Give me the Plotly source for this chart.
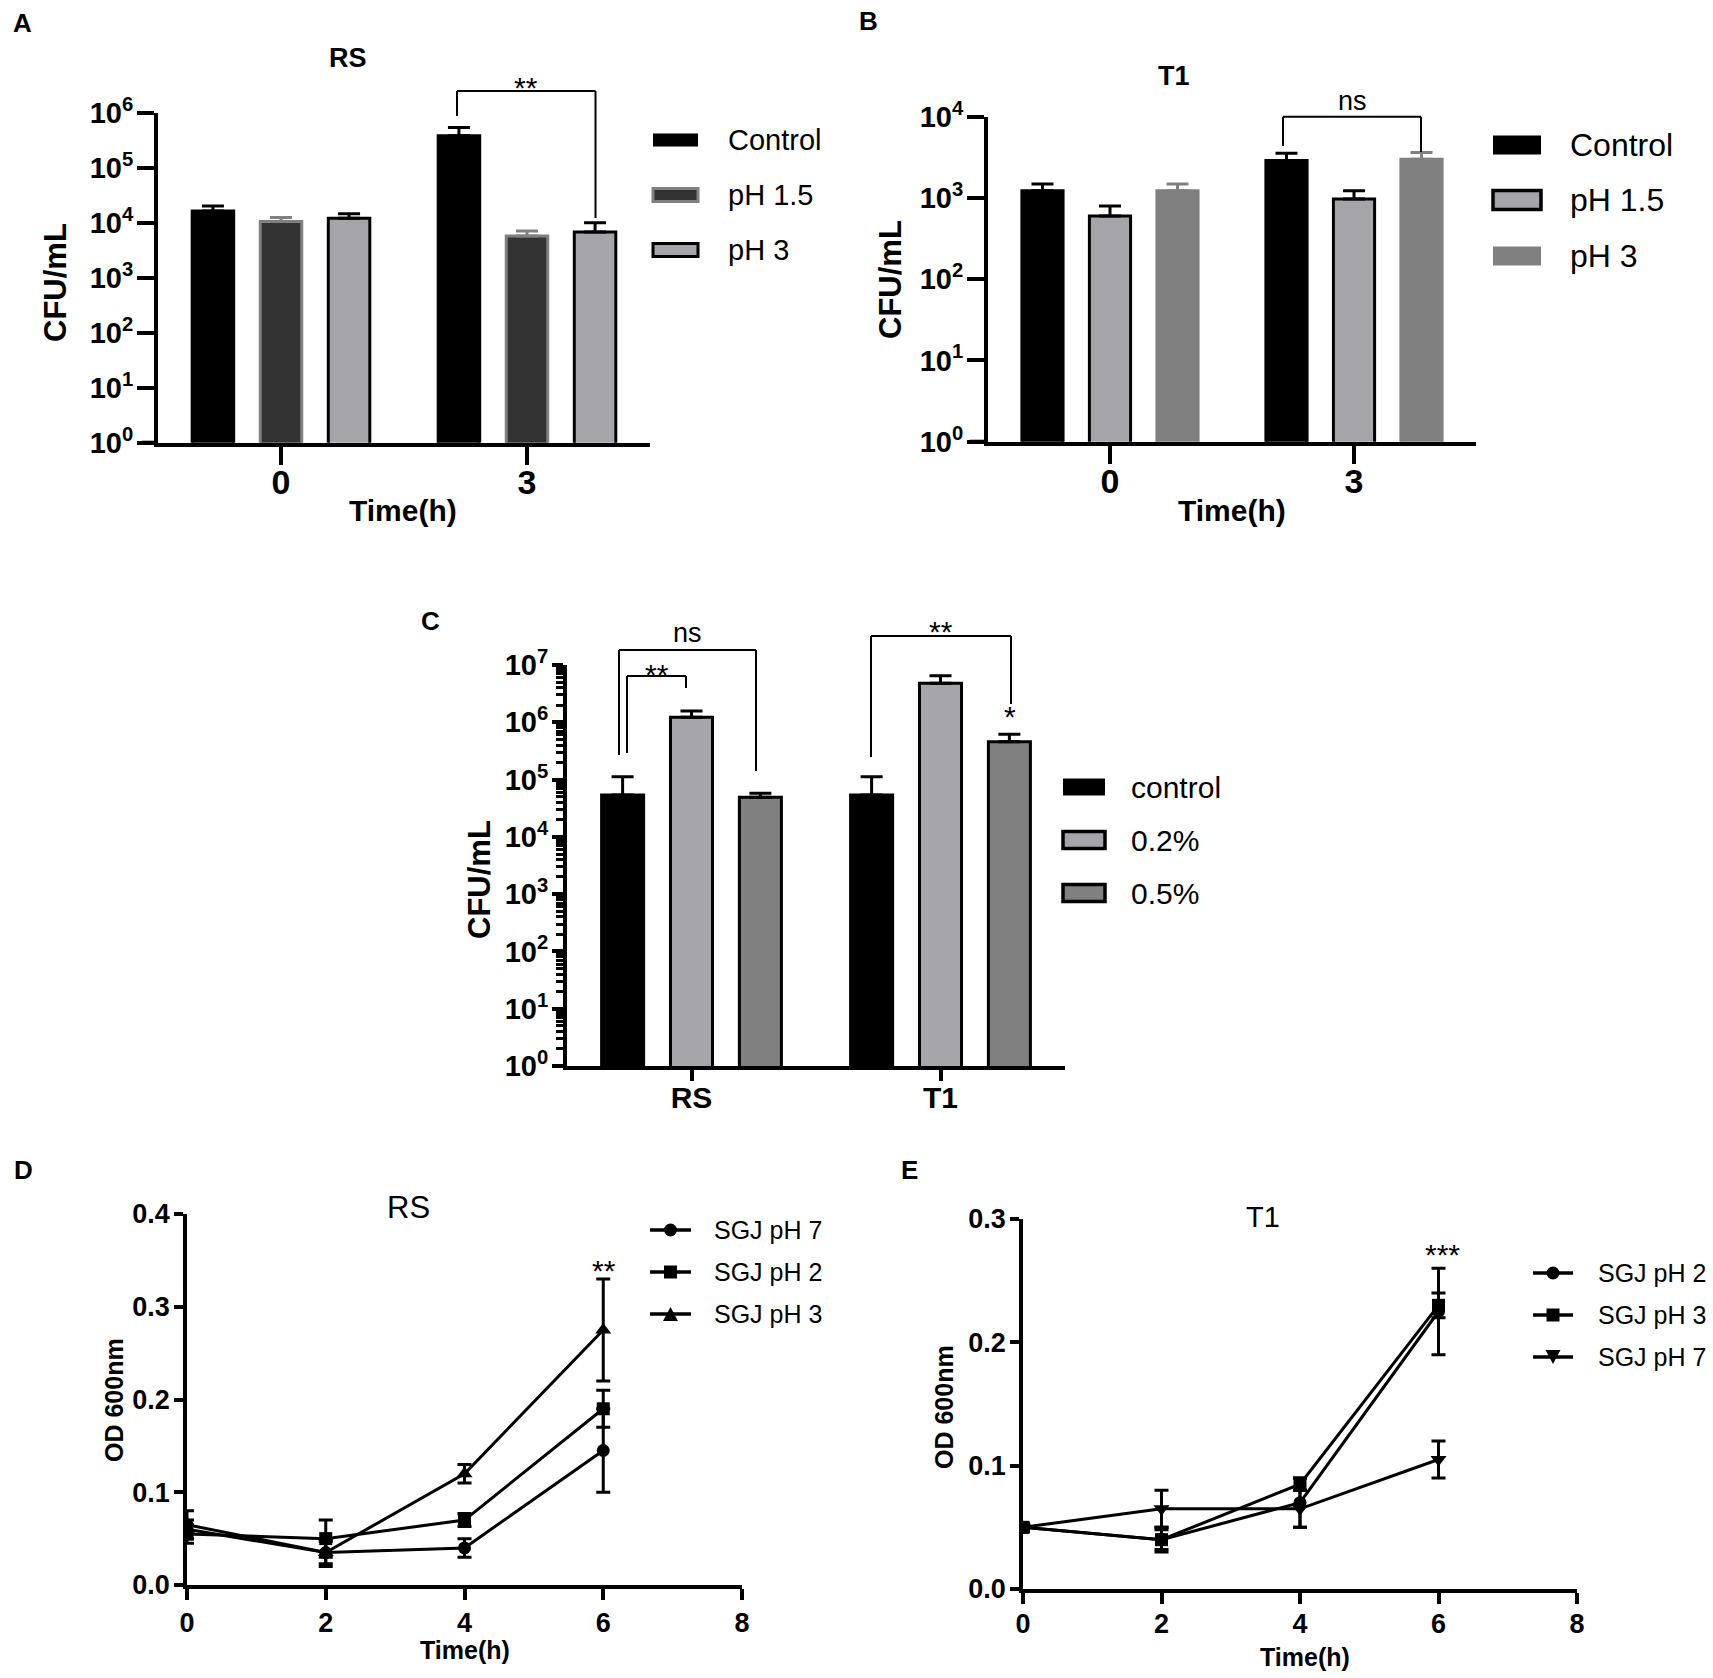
import plotly.graph_objects as go

W, H = 1713, 1678
FONT = "Arial, Liberation Sans, Helvetica, sans-serif"


def fx(x):
    return x / W


def fy(y):
    return 1 - y / H


# ------------------------------------------------------------------ data
# Panel A  (RS, CFU/mL vs time)
a_categories = ["0", "3"]
a_series = ["Control", "pH 1.5", "pH 3"]
a_control = [1.66e4, 3.9e5]
a_control_err = [3.8e3, 1.6e5]
a_ph15 = [1.07e4, 5.8e3]
a_ph15_err = [1.9e3, 1.4e3]
a_ph3 = [1.23e4, 6.9e3]
a_ph3_err = [2.5e3, 3.3e3]

# Panel B  (T1, CFU/mL vs time)
b_categories = ["0", "3"]
b_series = ["Control", "pH 1.5", "pH 3"]
b_control = [1.23e3, 2.88e3]
b_control_err = [250, 670]
b_ph15 = [600, 970]
b_ph15_err = [195, 260]
b_ph3 = [1.23e3, 3.0e3]
b_ph3_err = [250, 630]

# Panel C  (bile salt)
c_categories = ["RS", "T1"]
c_series = ["control", "0.2%", "0.5%"]
c_control = [5.4e4, 5.4e4]
c_control_err = [5.8e4, 5.8e4]
c_02 = [1.22e6, 4.8e6]
c_02_err = [3.6e5, 1.66e6]
c_05 = [4.9e4, 4.57e5]
c_05_err = [8.5e3, 1.6e5]

# log tick labels
log_tickvals = [1, 10, 100, 1e3, 1e4, 1e5, 1e6, 1e7]
log_ticktext = ["10<sup>0</sup>", "10<sup>1</sup>", "10<sup>2</sup>", "10<sup>3</sup>",
                "10<sup>4</sup>", "10<sup>5</sup>", "10<sup>6</sup>", "10<sup>7</sup>"]
log_minor_vals = [m * d for d in [1, 10, 100, 1e3, 1e4, 1e5, 1e6] for m in range(2, 10)]

# Panel D  (RS, OD600 vs time)
d_time = [0, 2, 4, 6]
d_series = ["SGJ pH 7", "SGJ pH 2", "SGJ pH 3"]
d_ph7 = [0.065, 0.035, 0.040, 0.145]
d_ph7_err = [0.015, 0.015, 0.010, 0.045]
d_ph2 = [0.055, 0.050, 0.070, 0.190]
d_ph2_err = [0.010, 0.020, 0.007, 0.020]
d_ph3 = [0.060, 0.035, 0.120, 0.275]
d_ph3_err = [0.010, 0.012, 0.010, 0.055]
d_yticks = [0.0, 0.1, 0.2, 0.3, 0.4]

# Panel E  (T1, OD600 vs time)
e_time = [0, 2, 4, 6]
e_series = ["SGJ pH 2", "SGJ pH 3", "SGJ pH 7"]
e_ph2 = [0.050, 0.040, 0.070, 0.225]
e_ph2_err = [0.003, 0.010, 0.020, 0.035]
e_ph3 = [0.050, 0.040, 0.085, 0.230]
e_ph3_err = [0.003, 0.008, 0.005, 0.010]
e_ph7 = [0.050, 0.065, 0.065, 0.105]
e_ph7_err = [0.003, 0.015, 0.015, 0.015]
e_yticks = [0.0, 0.1, 0.2, 0.3]
time_ticks = [0, 2, 4, 6, 8]

# ------------------------------------------------------------------ styles
BLACK = "#000000"
DARK = "#333333"
MID = "#808080"
LIGHT = "#a5a5a9"

fig = go.Figure()


def add_bar(x, y, err, name, fill, edge, errcol, xa, ya):
    fig.add_trace(go.Bar(
        x=x, y=y, name=name, showlegend=False,
        marker=dict(color=fill, line=dict(color=edge, width=3)),
        error_y=dict(type="data", symmetric=False, array=err, arrayminus=[0] * len(err),
                     color=errcol, thickness=3, width=11),
        xaxis=xa, yaxis=ya))


# A
add_bar(a_categories, a_control, a_control_err, a_series[0], BLACK, BLACK, BLACK, "x", "y")
add_bar(a_categories, a_ph15, a_ph15_err, a_series[1], DARK, MID, MID, "x", "y")
add_bar(a_categories, a_ph3, a_ph3_err, a_series[2], LIGHT, BLACK, BLACK, "x", "y")
# B
add_bar(b_categories, b_control, b_control_err, b_series[0], BLACK, BLACK, BLACK, "x2", "y2")
add_bar(b_categories, b_ph15, b_ph15_err, b_series[1], LIGHT, BLACK, BLACK, "x2", "y2")
add_bar(b_categories, b_ph3, b_ph3_err, b_series[2], MID, MID, MID, "x2", "y2")
# C
add_bar(c_categories, c_control, c_control_err, c_series[0], BLACK, BLACK, BLACK, "x3", "y3")
add_bar(c_categories, c_02, c_02_err, c_series[1], LIGHT, BLACK, BLACK, "x3", "y3")
add_bar(c_categories, c_05, c_05_err, c_series[2], MID, BLACK, BLACK, "x3", "y3")


def add_line(x, y, err, name, symbol, size, xa, ya):
    fig.add_trace(go.Scatter(
        x=x, y=y, name=name, mode="lines+markers", showlegend=False,
        line=dict(color=BLACK, width=3),
        marker=dict(symbol=symbol, size=size, color=BLACK),
        error_y=dict(type="data", array=err, color=BLACK, thickness=3, width=7),
        xaxis=xa, yaxis=ya))


add_line(d_time, d_ph7, d_ph7_err, d_series[0], "circle", 13, "x4", "y4")
add_line(d_time, d_ph2, d_ph2_err, d_series[1], "square", 13, "x4", "y4")
add_line(d_time, d_ph3, d_ph3_err, d_series[2], "triangle-up", 14, "x4", "y4")
add_line(e_time, e_ph2, e_ph2_err, e_series[0], "circle", 13, "x5", "y5")
add_line(e_time, e_ph3, e_ph3_err, e_series[1], "square", 13, "x5", "y5")
add_line(e_time, e_ph7, e_ph7_err, e_series[2], "triangle-down", 14, "x5", "y5")

# ------------------------------------------------------------------ axes


def cat_x(x0, x1, anchor, ticklen, tsize, standoff):
    return dict(domain=[fx(x0), fx(x1)], type="category", range=[-0.5, 1.5], anchor=anchor,
                showline=True, linecolor=BLACK, linewidth=4, ticks="outside", ticklen=ticklen,
                tickwidth=4, tickcolor=BLACK, showgrid=False, zeroline=False,
                ticklabelstandoff=standoff, automargin=False,
                tickfont=dict(family=FONT, size=tsize, color=BLACK, weight="bold"))


def log_y(y0, y1, top, anchor, ticklen, minor=False):
    d = dict(domain=[fy(y0), fy(y1)], type="log", range=[0, top], anchor=anchor,
             showline=True, linecolor=BLACK, linewidth=4, ticks="outside", ticklen=ticklen,
             tickwidth=4, tickcolor=BLACK, showgrid=False, zeroline=False,
             tickmode="array", tickvals=log_tickvals[:top + 1], ticktext=log_ticktext[:top + 1],
             ticklabelstandoff=-2, automargin=False,
             tickfont=dict(family=FONT, size=29, color=BLACK, weight="bold"))
    if minor:
        d["minor"] = dict(tickmode="array", tickvals=log_minor_vals, ticks="outside",
                          ticklen=7, tickwidth=2.5, tickcolor=BLACK, showgrid=False)
    return d


def lin_x(x0, x1, anchor, standoff):
    return dict(domain=[fx(x0), fx(x1)], range=[0, 8], anchor=anchor, tickmode="array",
                tickvals=time_ticks, showline=True, linecolor=BLACK, linewidth=3.5,
                ticks="outside", ticklen=11, tickwidth=3.5, tickcolor=BLACK, showgrid=False,
                zeroline=False, ticklabelstandoff=standoff, automargin=False,
                tickfont=dict(family=FONT, size=27, color=BLACK, weight="bold"))


def lin_y(y0, y1, top, ticks, anchor):
    return dict(domain=[fy(y0), fy(y1)], range=[0, top], anchor=anchor, tickmode="array",
                tickvals=ticks, tickformat=".1f", showline=True, linecolor=BLACK,
                linewidth=3.5, ticks="outside", ticklen=9, tickwidth=3.5, tickcolor=BLACK,
                showgrid=False, zeroline=False, ticklabelstandoff=-1, automargin=False,
                tickfont=dict(family=FONT, size=27, color=BLACK, weight="bold"))


layout_axes = dict(
    xaxis=cat_x(158, 650, "y", 18, 34, -12),
    yaxis=log_y(442.7, 113.3, 6, "x", 17),
    xaxis2=cat_x(988, 1476, "y2", 18, 34, -12),
    yaxis2=log_y(441.7, 116.7, 4, "x2", 17),
    xaxis3=cat_x(567, 1065, "y3", 11, 30, -9),
    yaxis3=log_y(1066, 665, 7, "x3", 11, minor=True),
    xaxis4=lin_x(187, 742, "y4", 0),
    yaxis4=lin_y(1585, 1214, 0.4, d_yticks, "x4"),
    xaxis5=lin_x(1023, 1577, "y5", -3),
    yaxis5=lin_y(1589, 1219, 0.3, e_yticks, "x5"),
)

# ------------------------------------------------------------------ decorations
shapes = []
annotations = []


def pline(x0, y0, x1, y1, w=2):
    shapes.append(dict(type="line", xref="paper", yref="paper", x0=fx(x0), y0=fy(y0),
                       x1=fx(x1), y1=fy(y1), line=dict(color=BLACK, width=w)))


def bracket(x0, x1, ytop, yl, yr):
    pline(x0, yl, x0, ytop)
    pline(x0, ytop, x1, ytop)
    pline(x1, ytop, x1, yr)


def text(x, y, s, size, bold=False, angle=0, xanchor="center"):
    annotations.append(dict(xref="paper", yref="paper", x=fx(x), y=fy(y), text=s,
                            showarrow=False, textangle=angle, xanchor=xanchor,
                            yanchor="middle",
                            font=dict(family=FONT, size=size, color=BLACK,
                                      weight="bold" if bold else "normal")))


# x-axis overhang left of the y-axis (Prism style)
pline(142, 442.7, 158, 442.7, 4)
pline(970, 441.7, 988, 441.7, 4)
pline(556, 1066, 567, 1066, 4)
pline(177, 1585, 187, 1585, 3.5)
pline(1014, 1589, 1023, 1589, 3.5)

# significance brackets
bracket(457, 595.5, 91, 116, 218)
text(526, 87, "**", 30)
bracket(1283, 1421, 116.7, 146, 152)
text(1352, 101, "ns", 27)
bracket(619, 756, 650, 755, 771)
text(687, 633, "ns", 27)
bracket(627, 686, 676, 753, 688)
text(657, 674, "**", 30)
bracket(871, 1011, 636, 757, 704)
text(941, 631, "**", 30)
text(1010, 716, "*", 30)
text(604, 1270, "**", 30)
text(1442, 1254, "***", 30)

# panel letters
text(22, 23, "A", 26, bold=True)
text(868, 21, "B", 26, bold=True)
text(430, 621, "C", 26, bold=True)
text(23, 1170, "D", 26, bold=True)
text(909, 1170, "E", 26, bold=True)

# titles
text(348, 58, "RS", 27, bold=True)
text(1174, 76, "T1", 27, bold=True)
text(408, 1207, "RS", 31)
text(1263, 1217, "T1", 29)

# axis titles
text(55, 283, "CFU/mL", 31, bold=True, angle=-90)
text(891, 280, "CFU/mL", 31, bold=True, angle=-90)
text(479, 880, "CFU/mL", 31, bold=True, angle=-90)
text(114, 1400, "OD 600nm", 25, bold=True, angle=-90)
text(944, 1407, "OD 600nm", 25, bold=True, angle=-90)
text(403, 511, "Time(h)", 30, bold=True)
text(1232, 511, "Time(h)", 30, bold=True)
text(465, 1650, "Time(h)", 25, bold=True)
text(1305, 1657, "Time(h)", 25, bold=True)


# bar legends (Prism-like wide swatches)
def swatch(x0, x1, yc, h, fill, edge, lw):
    shapes.append(dict(type="rect", xref="paper", yref="paper", x0=fx(x0), x1=fx(x1),
                       y0=fy(yc - h / 2), y1=fy(yc + h / 2), fillcolor=fill,
                       line=dict(color=edge, width=lw)))


a_leg = [(BLACK, BLACK, 0), (DARK, MID, 3), (LIGHT, BLACK, 3)]
for i, (fill, edge, lw) in enumerate(a_leg):
    yc = [140, 195, 250][i]
    swatch(653, 698, yc, 13, fill, edge, lw)
    text(726, yc, a_series[i], 29, xanchor="left")

b_leg = [(BLACK, BLACK, 0), (LIGHT, BLACK, 3.5), (MID, MID, 0)]
for i, (fill, edge, lw) in enumerate(b_leg):
    yc = [145, 200, 256][i]
    swatch(1493, 1541, yc, 19, fill, edge, lw)
    text(1568, yc, b_series[i], 32, xanchor="left")

c_leg = [(BLACK, BLACK, 0), (LIGHT, BLACK, 3.5), (MID, BLACK, 3.5)]
for i, (fill, edge, lw) in enumerate(c_leg):
    yc = [787, 840, 893][i]
    swatch(1063, 1105, yc, 17, fill, edge, lw)
    text(1129, yc, c_series[i], 30, xanchor="left")


# line-chart legends (line segment + marker + label)
def marker_shape(cx, cy, symbol):
    if symbol == "circle":
        r = 6.5
        shapes.append(dict(type="circle", xref="paper", yref="paper",
                           x0=fx(cx - r), x1=fx(cx + r), y0=fy(cy + r), y1=fy(cy - r),
                           fillcolor=BLACK, line=dict(width=0)))
    elif symbol == "square":
        r = 6.5
        shapes.append(dict(type="rect", xref="paper", yref="paper",
                           x0=fx(cx - r), x1=fx(cx + r), y0=fy(cy + r), y1=fy(cy - r),
                           fillcolor=BLACK, line=dict(width=0)))
    else:
        hw, hh = 7.5, 7
        s = -1 if symbol == "triangle-up" else 1
        pts = [(cx, cy + s * hh), (cx - hw, cy - s * hh), (cx + hw, cy - s * hh)]
        path = "M" + " L".join(f"{fx(px_)},{fy(py_)}" for px_, py_ in pts) + " Z"
        shapes.append(dict(type="path", xref="paper", yref="paper", path=path,
                           fillcolor=BLACK, line=dict(width=0)))


def line_legend(x0, x1, xt, ys, names, symbols):
    for yc, nm, sym in zip(ys, names, symbols):
        pline(x0, yc, x1, yc, 3.5)
        marker_shape((x0 + x1) / 2, yc, sym)
        text(xt, yc, nm, 25, xanchor="left")


line_legend(650, 691, 712, [1230, 1272, 1314], d_series, ["circle", "square", "triangle-up"])
line_legend(1533, 1573, 1596, [1273, 1315, 1357], e_series,
            ["circle", "square", "triangle-down"])

fig.update_layout(
    width=W, height=H, margin=dict(l=0, r=0, t=0, b=0, pad=0, autoexpand=False),
    paper_bgcolor="white", plot_bgcolor="white",
    barmode="group", bargap=0.17, bargroupgap=0.39,
    font=dict(family=FONT, color=BLACK),
    showlegend=False,
    shapes=shapes, annotations=annotations,
    **layout_axes,
)

fig.write_html("out.html", config={"displayModeBar": False},
               post_script="document.body.style.margin='0';document.body.style.overflow='hidden';")
